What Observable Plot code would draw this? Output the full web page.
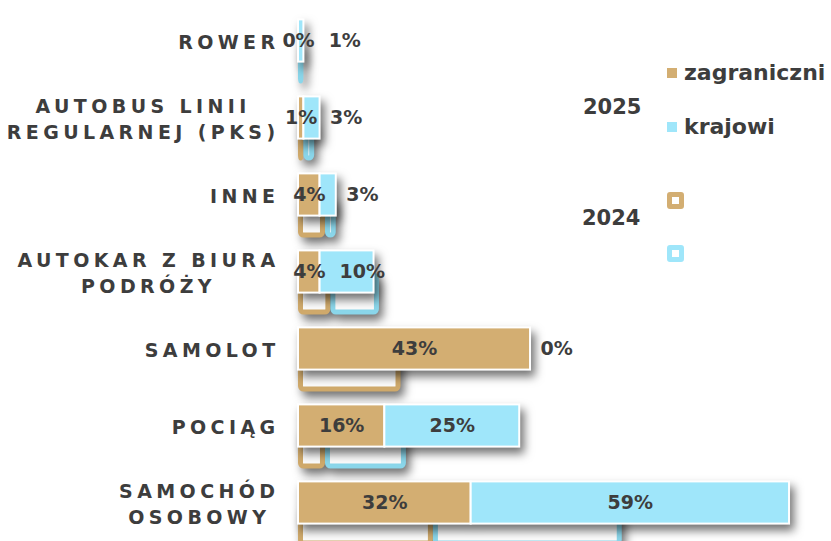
<!DOCTYPE html>
<html><head><meta charset="utf-8">
<script src="https://cdn.jsdelivr.net/npm/d3@7"></script>
<script src="https://cdn.jsdelivr.net/npm/@observablehq/plot@0.6"></script>
<style>
html,body{margin:0;padding:0;background:#fff;overflow:hidden;}
#wrap{position:relative;width:831px;height:541px;overflow:hidden;}
.lg{position:absolute;font-family:"DejaVu Sans",sans-serif;font-weight:bold;color:#3d3d3d;line-height:1;white-space:nowrap;}
.sq{position:absolute;box-sizing:border-box;}
</style></head><body><div id="wrap"></div>
<script>
// Categories (top to bottom)
const categories = ["ROWER", "AUTOBUS LINII\nREGULARNEJ (PKS)", "INNE", "AUTOKAR Z BIURA\nPODRÓŻY", "SAMOLOT", "POCIĄG", "SAMOCHÓD\nOSOBOWY"];
// Values in %
const zagraniczni2025 = [0, 1, 4, 4, 43, 16, 32];
const krajowi2025     = [1, 3, 3, 10, 0, 25, 59];
const zagraniczni2024 = [0, 1, 5, 6, 19, 5, 25];
const krajowi2024     = [1, 2, 2, 9, 0, 15, 35];
const seriesNames = ["zagraniczni", "krajowi"];
const yearLabels = ["2025", "2024"];

const fillColor = {zagraniczni: "#d3ae72", krajowi: "#9fe6fa"};
const strokeColor2024 = {zagraniczni: "#cfa96b", krajowi: "#8ad6ea"};
const textColor = "#3d3d3d";

const toRows = (zag, kraj, year) => categories.flatMap((c, i) => [
  {category: c, series: "zagraniczni", value: zag[i], year},
  {category: c, series: "krajowi", value: kraj[i], year}
]);
const rows2025 = toRows(zagraniczni2025, krajowi2025, "2025");
const rows2024 = toRows(zagraniczni2024, krajowi2024, "2024");
const labelRows = categories.map((c, i) => ({category: c, zag: zagraniczni2025[i], kraj: krajowi2025[i]}));

const bandInset = 17.4;
const plot = Plot.plot({
  width: 831, height: 541,
  style: {fontFamily: "'DejaVu Sans', sans-serif", background: "transparent", overflow: "visible"},
  x: {domain: [0, 100], range: [298, 837.6], axis: null},
  y: {domain: categories, range: [-0.4, 543.9], padding: 0, axis: null},
  color: {type: "identity"},
  marks: [
    Plot.barX(rows2024, Plot.stackX({
      x: "value", y: "category", order: seriesNames,
      fill: "#fbfbfb", stroke: d => strokeColor2024[d.series], strokeWidth: 5,
      insetTop: bandInset + 2.5, insetBottom: bandInset + 2.5, insetLeft: 2.5, insetRight: 2.5,
      rx: 3, dy: 22
    })),
    Plot.barX(rows2025, Plot.stackX({
      x: "value", y: "category", order: seriesNames,
      fill: d => fillColor[d.series], stroke: "#ffffff", strokeWidth: 2,
      insetTop: bandInset, insetBottom: bandInset
    })),
    Plot.text(labelRows, {
      x: d => d.zag / 2, y: "category", text: d => d.zag + "%",
      fill: textColor, fontSize: 19, fontWeight: "bold"
    }),
    Plot.text(labelRows.filter(d => d.kraj >= 10), {
      x: d => d.zag + d.kraj / 2, y: "category", text: d => d.kraj + "%",
      fill: textColor, fontSize: 19, fontWeight: "bold"
    }),
    Plot.text(labelRows.filter(d => d.kraj < 10), {
      x: d => d.zag + d.kraj, y: "category", text: d => d.kraj + "%",
      textAnchor: "start", dx: 10,
      fill: textColor, fontSize: 19, fontWeight: "bold"
    }),
    Plot.text(categories, {
      x: () => 0, y: d => d, text: d => d, textAnchor: "end", dx: -19,
      fill: textColor, fontSize: 19, fontWeight: "bold", lineHeight: 1.37
    })
  ]
});
const wrap = document.getElementById("wrap");
wrap.appendChild(plot);

// shadows on bar groups
plot.querySelectorAll('g[aria-label="bar"]').forEach(g => {
  g.style.filter = "drop-shadow(4px 6px 5px rgba(0,0,0,0.55))";
});
const textGroups = Array.from(plot.querySelectorAll('g[aria-label="text"]'));
// category labels: letter spacing + centered lines
const cat = textGroups[textGroups.length - 1];
if (cat) {
  cat.style.letterSpacing = "4.4px";
  cat.querySelectorAll("text").forEach(t => {
    const spans = Array.from(t.querySelectorAll("tspan"));
    if (spans.length > 1) {
      const w = spans.map(s => s.getComputedTextLength());
      const W = Math.max(...w);
      spans.forEach((s, i) => s.setAttribute("x", -(W - w[i]) / 2));
    }
  });
}
// value labels: keep a minimum gap between neighbouring labels in the same row
const valueTexts = textGroups.slice(0, 3).flatMap(g => Array.from(g.querySelectorAll("text")));
const byRow = d3.group(valueTexts, t => Math.round(t.getBBox().y + t.getBBox().height / 2 + (t.transform.baseVal.consolidate()?.matrix.f || 0)));
for (const [, list] of byRow) {
  const items = list.map(t => { const b = t.getBoundingClientRect(); return {t, l: b.left, r: b.right}; }).sort((a, b) => a.l - b.l);
  for (let i = 1; i < items.length; i++) {
    const gap = items[i].l - items[i - 1].r;
    if (gap < 12) {
      const shift = 14 - gap;
      const cur = items[i].t.getAttribute("dx") ? +items[i].t.getAttribute("dx") : 0;
      items[i].t.setAttribute("dx", cur + shift);
      items[i].l += shift; items[i].r += shift;
    }
  }
}

// legend (HTML)
function add(txt, cls, style) { const d = document.createElement("div"); d.className = cls; d.textContent = txt; Object.assign(d.style, style); wrap.appendChild(d); return d; }
add(yearLabels[0], "lg", {left: "583px", top: "97px", fontSize: "21px"});
add(yearLabels[1], "lg", {left: "582px", top: "208px", fontSize: "21px"});
add("", "sq", {left: "667px", top: "68px", width: "10px", height: "10px", background: fillColor.zagraniczni});
add("", "sq", {left: "667px", top: "122px", width: "10px", height: "10px", background: fillColor.krajowi});
add(seriesNames[0], "lg", {left: "684px", top: "62px", fontSize: "22px"});
add(seriesNames[1], "lg", {left: "684px", top: "116px", fontSize: "22px"});
add("", "sq", {left: "667px", top: "192px", width: "17px", height: "17px", background: "#fff", border: "5px solid " + fillColor.zagraniczni, borderRadius: "3px"});
add("", "sq", {left: "667px", top: "245px", width: "17px", height: "17px", background: "#fff", border: "5px solid " + fillColor.krajowi, borderRadius: "3px"});
</script>
</body></html>
